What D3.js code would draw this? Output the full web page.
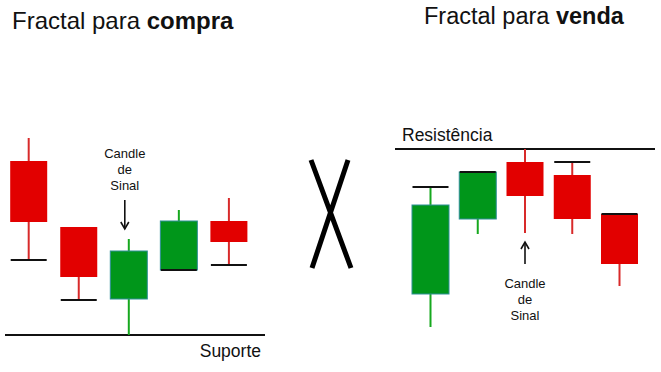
<!DOCTYPE html>
<html>
<head>
<meta charset="utf-8">
<script src="https://cdn.jsdelivr.net/npm/d3@7"></script>
<style>
  html, body { margin: 0; padding: 0; background: #fff; }
  svg { display: block; }
  text { font-family: "Liberation Sans", Arial, sans-serif; fill: #111; }
</style>
</head>
<body>
<svg id="chart" width="661" height="372"></svg>
<script>
// ---- Data (price units) ----
const buyCategories = ["1", "2", "3", "4", "5"];
const buyOpen  = [211, 145,  73, 102, 151];
const buyHigh  = [234, 145, 133, 162, 174];
const buyLow   = [112,  72,  37, 102, 107];
const buyClose = [150,  95, 121, 151, 130];
const buyMarker = ["low", "low", null, "low", "low"];
const buySignal = "3";
const supportLevel = 37;

const sellCategories = ["1", "2", "3", "4", "5"];
const sellOpen  = [ 78, 153, 210, 197, 158];
const sellHigh  = [185, 200, 223, 210, 158];
const sellLow   = [ 45, 138, 139, 138,  86];
const sellClose = [167, 200, 176, 153, 108];
const sellMarker = ["high", "high", null, "high", "high"];
const sellSignal = "3";
const resistanceLevel = 223;

const titles = [
  { normal: "Fractal para ", bold: "compra" },
  { normal: "Fractal para ", bold: "venda" }
];
const signalLabel = ["Candle", "de", "Sinal"];
const supportLabel = "Suporte";
const resistanceLabel = "Resistência";

// ---- Drawing ----
const svg = d3.select("#chart");
const W = 661, H = 372;
const y = d3.scaleLinear().domain([0, H]).range([H, 0]);

const RED = "#e20000", RED_WICK = "#d82a2a";
const GREEN = "#00961a", GREEN_WICK = "#16a81e", GREEN_EDGE = "#2e8f96";
const bodyW = 37;

function drawPanel(cfg) {
  const x = d3.scalePoint().domain(cfg.cats).range(cfg.xRange);
  const data = cfg.cats.map((c, i) => ({
    c, o: cfg.open[i], h: cfg.high[i], l: cfg.low[i], cl: cfg.close[i], m: cfg.marker[i]
  }));
  const g = svg.append("g");

  // level line
  g.append("line")
    .attr("x1", cfg.lineX[0]).attr("x2", cfg.lineX[1])
    .attr("y1", y(cfg.level)).attr("y2", y(cfg.level))
    .attr("stroke", "#111").attr("stroke-width", 2);

  const cg = g.selectAll("g.candle").data(data).join("g").attr("class", "candle");
  // wicks
  cg.append("line")
    .attr("x1", d => x(d.c)).attr("x2", d => x(d.c))
    .attr("y1", d => y(d.h)).attr("y2", d => y(d.l))
    .attr("stroke", d => d.cl >= d.o ? GREEN_WICK : RED_WICK)
    .attr("stroke-width", 2);
  // bodies
  cg.append("rect")
    .attr("x", d => x(d.c) - bodyW / 2)
    .attr("width", bodyW)
    .attr("y", d => y(Math.max(d.o, d.cl)))
    .attr("height", d => Math.abs(y(d.o) - y(d.cl)))
    .attr("fill", d => d.cl >= d.o ? GREEN : RED)
    .attr("stroke", d => d.cl >= d.o ? GREEN_EDGE : "none")
    .attr("stroke-width", 1);
  // black fractal markers
  cg.filter(d => d.m).append("line")
    .attr("x1", d => x(d.c) - bodyW / 2 + 0.5).attr("x2", d => x(d.c) + bodyW / 2 - 0.5)
    .attr("y1", d => y(d.m === "low" ? d.l : d.h))
    .attr("y2", d => y(d.m === "low" ? d.l : d.h))
    .attr("stroke", "#111").attr("stroke-width", 2);

  // signal label + arrow
  const sx = x(cfg.signal) + cfg.arrowDx;
  const t = g.append("text").attr("text-anchor", "middle").style("font-size", "13px");
  signalLabel.forEach((s, i) => {
    t.append("tspan").attr("x", sx).attr("y", cfg.labelY + i * 16).text(s);
  });
  const a = cfg.arrow;
  g.append("line").attr("x1", sx).attr("x2", sx).attr("y1", a[0]).attr("y2", a[1])
    .attr("stroke", "#111").attr("stroke-width", 1.6);
  const dir = a[1] > a[0] ? 1 : -1;
  g.append("path")
    .attr("d", `M${sx - 4},${a[1] - dir * 7} L${sx},${a[1]} L${sx + 4},${a[1] - dir * 7}`)
    .attr("fill", "none").attr("stroke", "#111").attr("stroke-width", 1.6);

  // level label
  g.append("text").attr("x", cfg.levelLabelPos[0]).attr("y", cfg.levelLabelPos[1])
    .attr("text-anchor", cfg.levelLabelAnchor)
    .style("font-size", "17.5px").text(cfg.levelLabel);

  // title
  const tt = g.append("text").attr("x", cfg.titlePos[0]).attr("y", cfg.titlePos[1])
    .style("font-size", cfg.titleSize);
  tt.append("tspan").text(cfg.title.normal);
  tt.append("tspan").style("font-weight", "bold").text(cfg.title.bold);
}

drawPanel({
  cats: buyCategories, open: buyOpen, high: buyHigh, low: buyLow, close: buyClose,
  marker: buyMarker, signal: buySignal, level: supportLevel,
  xRange: [28.7, 228.9], lineX: [5, 265], arrowDx: -4,
  labelY: 158, arrow: [200, 229],
  levelLabel: supportLabel, levelLabelPos: [261, 357], levelLabelAnchor: "end",
  title: titles[0], titlePos: [12, 29], titleSize: "24px"
});

drawPanel({
  cats: sellCategories, open: sellOpen, high: sellHigh, low: sellLow, close: sellClose,
  marker: sellMarker, signal: sellSignal, level: resistanceLevel,
  xRange: [430.5, 619.5], lineX: [395, 655], arrowDx: 0,
  labelY: 288, arrow: [264, 242],
  levelLabel: resistanceLabel, levelLabelPos: [402, 141], levelLabelAnchor: "start",
  title: titles[1], titlePos: [424, 24], titleSize: "23.5px"
});

// the "X" separator
svg.append("path")
  .attr("d", "M311,160 L351,268 M348,160 L312,268")
  .attr("stroke", "#000").attr("stroke-width", 5).attr("fill", "none");
</script>
</body>
</html>
